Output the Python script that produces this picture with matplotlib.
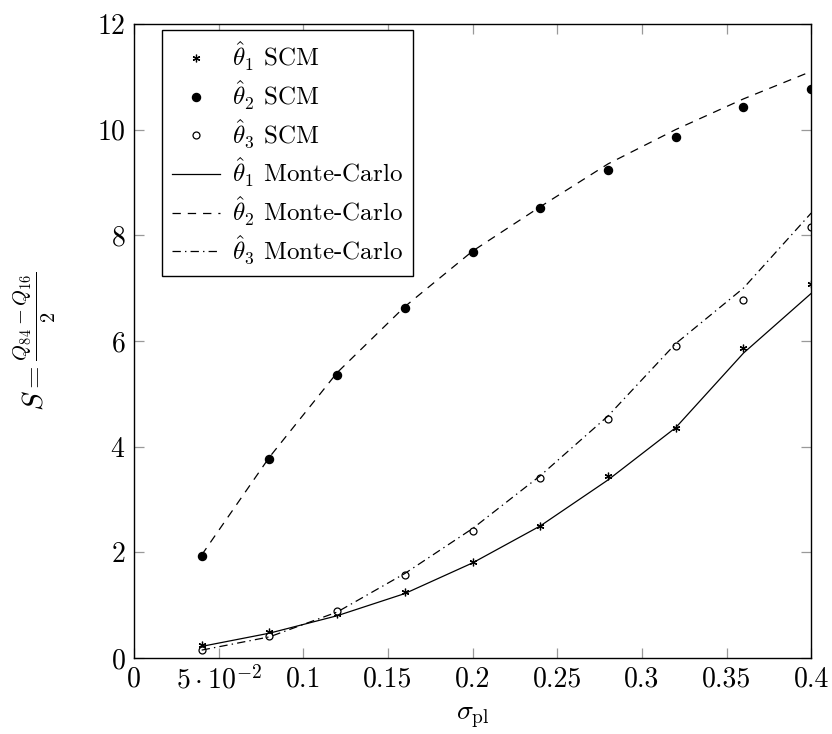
# Recreate the SCM vs Monte-Carlo spread chart
import numpy as np
import matplotlib.pyplot as plt

plt.rcParams['font.family'] = 'serif'
plt.rcParams['font.serif'] = ['cmr10', 'DejaVu Serif']
plt.rcParams['mathtext.fontset'] = 'cm'
plt.rcParams['axes.formatter.use_mathtext'] = True
plt.rcParams['lines.scale_dashes'] = False

# Data
sigma = [0.04, 0.08, 0.12, 0.16, 0.20, 0.24, 0.28, 0.32, 0.36, 0.40]

scm_t1 = [0.25, 0.49, 0.83, 1.25, 1.82, 2.50, 3.44, 4.36, 5.87, 7.08]
scm_t2 = [1.93, 3.77, 5.36, 6.63, 7.68, 8.51, 9.23, 9.86, 10.43, 10.77]
scm_t3 = [0.15, 0.42, 0.89, 1.57, 2.40, 3.41, 4.52, 5.90, 6.77, 8.16]

mc_t1 = [0.22, 0.47, 0.80, 1.22, 1.80, 2.50, 3.37, 4.36, 5.77, 6.90]
mc_t2 = [1.95, 3.80, 5.40, 6.65, 7.70, 8.54, 9.35, 10.00, 10.58, 11.10]
mc_t3 = [0.15, 0.40, 0.87, 1.60, 2.45, 3.45, 4.58, 5.95, 7.00, 8.42]

xticks = [0, 0.05, 0.1, 0.15, 0.2, 0.25, 0.3, 0.35, 0.4]
xtick_labels = ['0', r'$5\cdot10^{-2}$', '0.1', '0.15', '0.2', '0.25', '0.3', '0.35', '0.4']
yticks = [0, 2, 4, 6, 8, 10, 12]

fig = plt.figure(figsize=(8.32, 7.34), dpi=100)
ax = fig.add_axes([0.161, 0.1035, 0.814, 0.864])

lw = 0.9
ax.plot(sigma, scm_t1, linestyle='none', marker=(6, 2, 0), markersize=5.5,
        color='black', markeredgewidth=0.9, label=r'$\hat{\theta}_1$ SCM')
ax.plot(sigma, scm_t2, linestyle='none', marker='o', markersize=5.8,
        color='black', label=r'$\hat{\theta}_2$ SCM')
ax.plot(sigma, scm_t3, linestyle='none', marker='o', markersize=5,
        markerfacecolor='white', markeredgecolor='black', markeredgewidth=0.9,
        label=r'$\hat{\theta}_3$ SCM')
ax.plot(sigma, mc_t1, color='black', lw=lw, linestyle='-',
        label=r'$\hat{\theta}_1$ Monte-Carlo')
ax.plot(sigma, mc_t2, color='black', lw=lw, linestyle=(0, (6, 5)),
        label=r'$\hat{\theta}_2$ Monte-Carlo')
ax.plot(sigma, mc_t3, color='black', lw=lw, linestyle=(0, (6, 3, 1, 3)),
        label=r'$\hat{\theta}_3$ Monte-Carlo')

ax.set_xlim(0, 0.4)
ax.set_ylim(0, 12)
ax.set_xticks(xticks)
ax.set_xticklabels(xtick_labels)
ax.set_yticks(yticks)
ax.tick_params(direction='in', top=True, right=True, length=7, width=0.9,
               color='#999999', labelsize=20, pad=6)
for s in ax.spines.values():
    s.set_linewidth(1.0)

ax.set_xlabel(r'$\sigma_{\rm pl}$', fontsize=20, labelpad=6)
ax.set_ylabel(r'$S = \frac{Q_{84} - Q_{16}}{2}$', fontsize=21, labelpad=28)

leg = ax.legend(loc='upper left', fontsize=18, fancybox=False, framealpha=1,
                edgecolor='black', handlelength=1.95, handletextpad=0.45,
                borderpad=0.4, labelspacing=0.22, borderaxespad=0,
                bbox_to_anchor=(0.041, 0.99))
leg.get_frame().set_linewidth(1.0)

fig.savefig('out.png', dpi=100)
